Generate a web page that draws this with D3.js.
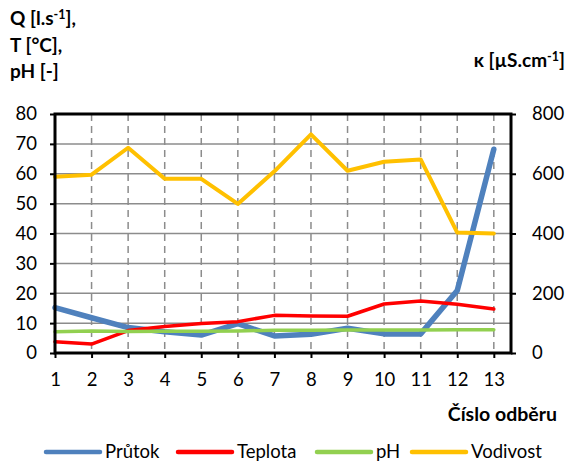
<!DOCTYPE html>
<html>
<head>
<meta charset="utf-8">
<script src="https://cdn.jsdelivr.net/npm/d3@7"></script>
<style>
  html, body { margin: 0; padding: 0; background: #fff; }
  svg text { font-family: Lato, "Open Sans", sans-serif; fill: #000; }
</style>
</head>
<body>
<svg id="chart" width="567" height="465"></svg>
<script>
// Sample numbers (Číslo odběru)
const samples = [1, 2, 3, 4, 5, 6, 7, 8, 9, 10, 11, 12, 13];

// Primary axis series: Q [l/s], T [°C], pH [-]
const prutok  = [15.2, 11.8, 8.5, 7.1, 6.0, 9.8, 5.7, 6.3, 8.3, 6.4, 6.4, 20.9, 68.2];
const teplota = [3.8, 3.0, 7.5, 8.9, 9.9, 10.5, 12.6, 12.4, 12.3, 16.4, 17.4, 16.3, 14.7];
const ph      = [7.1, 7.4, 7.2, 7.3, 7.3, 7.4, 7.6, 7.6, 7.7, 7.7, 7.7, 7.8, 7.8];

// Secondary axis series: conductivity [µS/cm]
const vodivost = [590, 597, 687, 583, 583, 499, 608, 732, 610, 640, 648, 403, 400];

// Axis ticks
const leftTicks  = [0, 10, 20, 30, 40, 50, 60, 70, 80];
const rightTicks = [0, 200, 400, 600, 800];

const seriesNames = ["Průtok", "Teplota", "pH", "Vodivost"];
const seriesColors = ["#4F81BD", "#FF0000", "#92D050", "#FFC000"];
const seriesWidths = [5.5, 3.5, 3.5, 4];

const svg = d3.select("#chart");
const plot = { left: 55, right: 511, top: 114, bottom: 353 };

const x = d3.scaleLinear().domain([1, 13.47]).range([plot.left, plot.right]);
const yL = d3.scaleLinear().domain([0, 80]).range([plot.bottom, plot.top]);
const yR = d3.scaleLinear().domain([0, 800]).range([plot.bottom, plot.top]);

// Horizontal grid
svg.append("g").selectAll("line")
  .data(leftTicks.filter(d => d > 0 && d < 80))
  .join("line")
  .attr("x1", plot.left).attr("x2", plot.right)
  .attr("y1", d => yL(d)).attr("y2", d => yL(d))
  .attr("stroke", "#8c8c8c").attr("stroke-width", 1.5);

// Vertical dashed grid
svg.append("g").selectAll("line")
  .data(samples.slice(1))
  .join("line")
  .attr("x1", d => x(d)).attr("x2", d => x(d))
  .attr("y1", plot.top).attr("y2", plot.bottom)
  .attr("stroke", "#8c8c8c").attr("stroke-width", 1.5)
  .attr("stroke-dasharray", "7,5");

// Series lines
const primary = [prutok, teplota, ph];
const lineL = d3.line().x((d, i) => x(samples[i])).y(d => yL(d));
const lineR = d3.line().x((d, i) => x(samples[i])).y(d => yR(d));
primary.forEach((s, k) => {
  svg.append("path").datum(s)
    .attr("d", lineL)
    .attr("fill", "none")
    .attr("stroke", seriesColors[k])
    .attr("stroke-width", seriesWidths[k])
    .attr("stroke-linejoin", "round")
    .attr("stroke-linecap", "round");
});
svg.append("path").datum(vodivost)
  .attr("d", lineR)
  .attr("fill", "none")
  .attr("stroke", seriesColors[3])
  .attr("stroke-width", seriesWidths[3])
  .attr("stroke-linejoin", "round")
  .attr("stroke-linecap", "round");

// Plot frame
svg.append("rect")
  .attr("x", plot.left).attr("y", plot.top)
  .attr("width", plot.right - plot.left).attr("height", plot.bottom - plot.top)
  .attr("fill", "none").attr("stroke", "#000").attr("stroke-width", 3);

// Axes
const axisStyle = g => {
  g.select(".domain").remove();
  g.selectAll(".tick line").attr("stroke", "#000").attr("stroke-width", 2);
  g.selectAll(".tick text").style("font-size", "18.5px").style("font-family", "Lato, 'Open Sans', sans-serif");
};

svg.append("g")
  .attr("transform", `translate(${plot.left},0)`)
  .call(d3.axisLeft(yL).tickValues(leftTicks).tickSize(5).tickPadding(13).tickFormat(d3.format("d")))
  .call(axisStyle);

svg.append("g")
  .attr("transform", `translate(${plot.right},0)`)
  .call(d3.axisRight(yR).tickValues(rightTicks).tickSize(5).tickPadding(16).tickFormat(d3.format("d")))
  .call(axisStyle);

svg.append("g")
  .attr("transform", `translate(0,${plot.bottom})`)
  .call(d3.axisBottom(x).tickValues(samples).tickSize(5).tickPadding(15).tickFormat(d3.format("d")))
  .call(axisStyle);

// Axis titles
const leftTitle = svg.append("text")
  .attr("x", 10).attr("y", 25)
  .style("font-size", "19px").style("font-weight", "bold");
leftTitle.append("tspan").text("Q [l.s");
leftTitle.append("tspan").attr("dy", -6).style("font-size", "12.5px").text("-1");
leftTitle.append("tspan").attr("dy", 6).text("],");
svg.append("text").attr("x", 10).attr("y", 52)
  .style("font-size", "19px").style("font-weight", "bold").text("T [°C],");
svg.append("text").attr("x", 10).attr("y", 78)
  .style("font-size", "19px").style("font-weight", "bold").text("pH [-]");

const rightTitle = svg.append("text")
  .attr("x", 565).attr("y", 67).attr("text-anchor", "end")
  .style("font-size", "19px").style("font-weight", "bold");
rightTitle.append("tspan").text("κ [µS.cm");
rightTitle.append("tspan").attr("dy", -6).style("font-size", "12.5px").text("-1");
rightTitle.append("tspan").attr("dy", 6).text("]");

svg.append("text").attr("x", 557).attr("y", 421).attr("text-anchor", "end")
  .style("font-size", "19.5px").style("font-weight", "bold").text("Číslo odběru");

// Legend
const legendX = [46, 178, 317, 412];
const legend = svg.append("g");
seriesNames.forEach((name, k) => {
  legend.append("line")
    .attr("x1", legendX[k]).attr("x2", legendX[k] + 54)
    .attr("y1", 452).attr("y2", 452)
    .attr("stroke", seriesColors[k]).attr("stroke-width", 4.5)
    .attr("stroke-linecap", "round");
  legend.append("text")
    .attr("x", legendX[k] + 59).attr("y", 458)
    .style("font-size", "18.5px").text(name);
});
</script>
</body>
</html>
